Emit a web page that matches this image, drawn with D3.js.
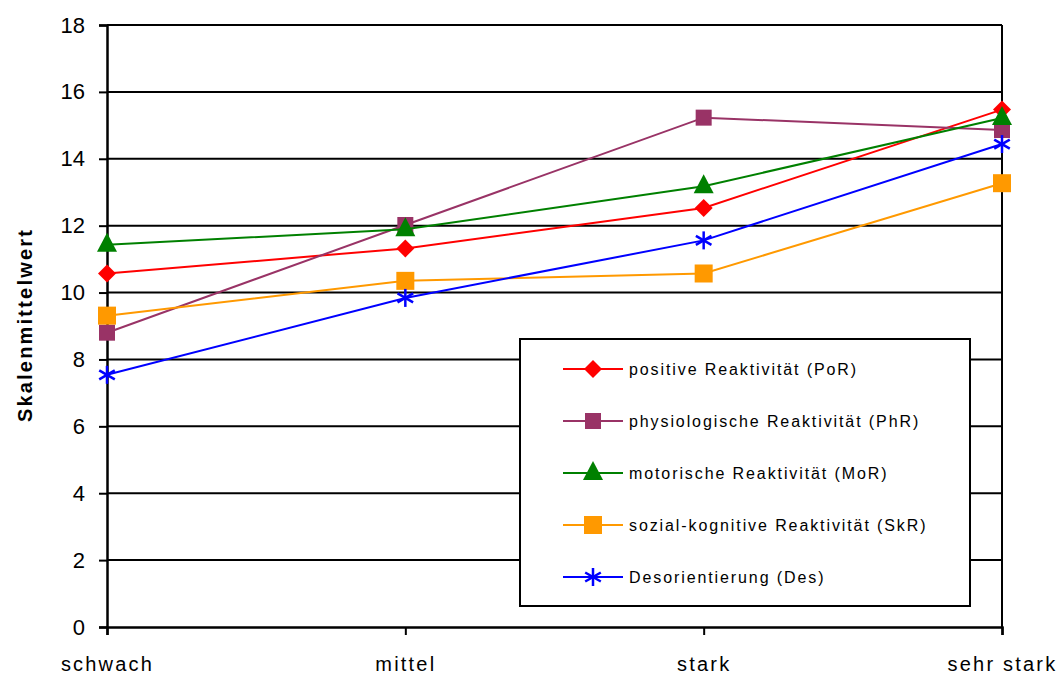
<!DOCTYPE html>
<html><head><meta charset="utf-8">
<script src="https://cdn.jsdelivr.net/npm/d3@7"></script>
<style>body{margin:0;background:#fff}svg{display:block;font-family:"Liberation Sans",Arial,sans-serif}</style>
</head><body><svg id="c" width="1063" height="676"></svg>
<script>
const categories = ["schwach","mittel","stark","sehr stark"];
const yTicks = [0,2,4,6,8,10,12,14,16,18];
const seriesNames = ["positive Reaktivität (PoR)","physiologische Reaktivität (PhR)","motorische Reaktivität (MoR)","sozial-kognitive Reaktivität (SkR)","Desorientierung (Des)"];
const PoR = [10.57, 11.32, 12.53, 15.47];
const PhR = [8.80, 12.02, 15.23, 14.86];
const MoR = [11.43, 11.89, 13.18, 15.22];
const SkR = [9.31, 10.35, 10.57, 13.27];
const Des = [7.54, 9.84, 11.56, 14.44];
const colors = ["#FF0000","#993366","#008000","#FF9900","#0000FF"];
const markers = ["diamond","square","triangle","square","star"];
const seriesValues = [PoR, PhR, MoR, SkR, Des];

const svg = d3.select("#c");
const L=107, R=1002, T=25, B=627;
const x = d3.scalePoint().domain(categories).range([L,R]).padding(0);
const y = d3.scaleLinear().domain([0,18]).range([B,T]);

// gridlines
svg.append("g").selectAll("line").data(yTicks.filter(d=>d>0)).join("line")
  .attr("x1",L).attr("x2",R).attr("y1",d=>y(d)).attr("y2",d=>y(d))
  .attr("stroke","#000").attr("stroke-width",2);
// right border
svg.append("line").attr("x1",R).attr("x2",R).attr("y1",T).attr("y2",B).attr("stroke","#000").attr("stroke-width",2);

// y axis
const ya = svg.append("g").attr("transform",`translate(${L},0)`)
  .call(d3.axisLeft(y).tickValues(yTicks).tickSize(8).tickPadding(14));
ya.select(".domain").attr("stroke","#000").attr("stroke-width",2.5);
ya.selectAll(".tick line").attr("stroke","#000").attr("stroke-width",2);
ya.selectAll("text").attr("font-size",22).attr("fill","#000").attr("font-family","Liberation Sans, Arial, sans-serif");

// x axis
const xa = svg.append("g").attr("transform",`translate(0,${B})`)
  .call(d3.axisBottom(x).tickSize(8).tickPadding(22));
xa.select(".domain").attr("stroke","#000").attr("stroke-width",2.5);
xa.selectAll(".tick line").attr("stroke","#000").attr("stroke-width",2);
xa.selectAll("text").attr("font-size",20).attr("letter-spacing","2.2px").attr("fill","#000").attr("font-family","Liberation Sans, Arial, sans-serif");

// axis title
svg.append("text").attr("transform","translate(32,325) rotate(-90)")
  .attr("text-anchor","middle").attr("font-weight","bold").attr("font-size",20)
  .attr("letter-spacing","2.2px").text("Skalenmittelwert");

function drawMarker(g, type, color, cx, cy){
  if(type==="diamond"){
    g.append("path").attr("d",`M${cx},${cy-9}L${cx+9},${cy}L${cx},${cy+9}L${cx-9},${cy}Z`).attr("fill",color);
  } else if(type==="square"){
    const s = color==="#FF9900"?18:16;
    g.append("rect").attr("x",cx-s/2).attr("y",cy-s/2).attr("width",s).attr("height",s).attr("fill",color);
  } else if(type==="triangle"){
    g.append("path").attr("d",`M${cx},${cy-12}L${cx+10},${cy+7}L${cx-10},${cy+7}Z`).attr("fill",color);
  } else if(type==="star"){
    const r=9;
    [0,60,120].forEach(a=>{
      const rad=a*Math.PI/180+Math.PI/2;
      g.append("line").attr("x1",cx-r*Math.cos(rad)).attr("y1",cy-r*Math.sin(rad))
        .attr("x2",cx+r*Math.cos(rad)).attr("y2",cy+r*Math.sin(rad))
        .attr("stroke",color).attr("stroke-width",2.5);
    });
  }
}

const line = d3.line().x((d,i)=>x(categories[i])).y(d=>y(d));
seriesValues.forEach((vals,si)=>{
  const g = svg.append("g");
  g.append("path").datum(vals).attr("d",line).attr("fill","none").attr("stroke",colors[si]).attr("stroke-width",2);
  vals.forEach((v,i)=>drawMarker(g, markers[si], colors[si], x(categories[i]), y(v)));
});

// legend
const lg = svg.append("g");
lg.append("rect").attr("x",520).attr("y",339).attr("width",450).attr("height",267)
  .attr("fill","#fff").attr("stroke","#000").attr("stroke-width",2);
seriesNames.forEach((name,i)=>{
  const yy = 369 + i*52;
  lg.append("line").attr("x1",563).attr("x2",623).attr("y1",yy).attr("y2",yy).attr("stroke",colors[i]).attr("stroke-width",2);
  drawMarker(lg, markers[i], colors[i], 593, yy);
  lg.append("text").attr("x",629).attr("y",yy+6).attr("font-size",16).attr("letter-spacing","1.9px").text(name);
});
</script></body></html>
